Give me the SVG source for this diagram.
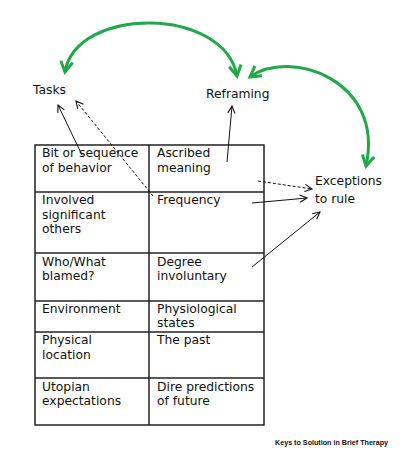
<svg xmlns="http://www.w3.org/2000/svg" width="400" height="457" viewBox="0 0 400 457">
<style>
text{font-family:"DejaVu Sans","Verdana",sans-serif;font-size:12.3px;fill:#111}
.foot{font-family:"Liberation Sans",Arial,sans-serif;font-size:6.5px;font-weight:bold}
.grid{fill:none;stroke:#222;stroke-width:1.5}
.blk{fill:none;stroke:#111;stroke-width:1}
.dash{stroke-dasharray:3,2}
.grn{fill:none;stroke:#22a84a;stroke-width:3}
</style>
<defs>
<marker id="ah" viewBox="0 0 10 10" refX="9" refY="5" markerWidth="9" markerHeight="9" markerUnits="userSpaceOnUse" orient="auto-start-reverse">
<path d="M1,1 L9,5 L1,9" fill="none" stroke="#111" stroke-width="1.2"/>
</marker>
<marker id="gh" viewBox="0 0 10 10" refX="8" refY="5" markerWidth="5" markerHeight="5" orient="auto-start-reverse">
<path d="M1,1 L8,5 L1,9" fill="none" stroke="#22a84a" stroke-width="2"/>
</marker>
</defs>
<g id="table">
<rect class="grid" x="35" y="145" width="229" height="280"/>
<line class="grid" x1="149" y1="145" x2="149" y2="425"/>
<line class="grid" x1="35" y1="192" x2="264" y2="192"/>
<line class="grid" x1="35" y1="253" x2="264" y2="253"/>
<line class="grid" x1="35" y1="301" x2="264" y2="301"/>
<line class="grid" x1="35" y1="332" x2="264" y2="332"/>
<line class="grid" x1="35" y1="378" x2="264" y2="378"/>
</g>
<g id="cell-bit"><text x="42" y="157">Bit or sequence</text><text x="42" y="172">of behavior</text></g>
<g id="cell-ascribed"><text x="157" y="157">Ascribed</text><text x="157" y="172">meaning</text></g>
<g id="cell-involved"><text x="42" y="204">Involved</text><text x="42" y="219">significant</text><text x="42" y="233">others</text></g>
<g id="cell-frequency"><text x="157" y="204">Frequency</text></g>
<g id="cell-who"><text x="42" y="266">Who/What</text><text x="42" y="280">blamed?</text></g>
<g id="cell-degree"><text x="157" y="266">Degree</text><text x="157" y="280">involuntary</text></g>
<g id="cell-environment"><text x="42" y="313">Environment</text></g>
<g id="cell-physiological"><text x="157" y="313">Physiological</text><text x="157" y="327">states</text></g>
<g id="cell-physical"><text x="42" y="344">Physical</text><text x="42" y="359">location</text></g>
<g id="cell-past"><text x="157" y="344">The past</text></g>
<g id="cell-utopian"><text x="42" y="391">Utopian</text><text x="42" y="405">expectations</text></g>
<g id="cell-dire"><text x="157" y="391">Dire predictions</text><text x="157" y="405">of future</text></g>
<g id="tasks"><text x="33" y="94">Tasks</text></g>
<g id="reframing"><text x="206" y="98">Reframing</text></g>
<g id="exceptions"><text x="315" y="185">Exceptions</text><text x="315" y="203">to rule</text></g>
<g id="connectors">
<path class="grn" d="M65,72 C76,6 224,6 237,76" marker-start="url(#gh)" marker-end="url(#gh)"/>
<path class="grn" d="M250,77 C290,48 385,80 366,166" marker-start="url(#gh)" marker-end="url(#gh)"/>
<line class="blk" x1="82" y1="155" x2="58" y2="105" marker-end="url(#ah)"/>
<line class="blk dash" x1="153" y1="196" x2="76" y2="101" marker-end="url(#ah)"/>
<line class="blk" x1="227" y1="162" x2="232" y2="106" marker-end="url(#ah)"/>
<line class="blk dash" x1="258" y1="181" x2="312" y2="189" marker-end="url(#ah)"/>
<line class="blk" x1="252" y1="203" x2="307" y2="198" marker-end="url(#ah)"/>
<line class="blk" x1="252" y1="267" x2="320" y2="212" marker-end="url(#ah)"/>
</g>
<text class="foot" x="275" y="445" textLength="113" lengthAdjust="spacingAndGlyphs">Keys to Solution in Brief Therapy</text>
</svg>
